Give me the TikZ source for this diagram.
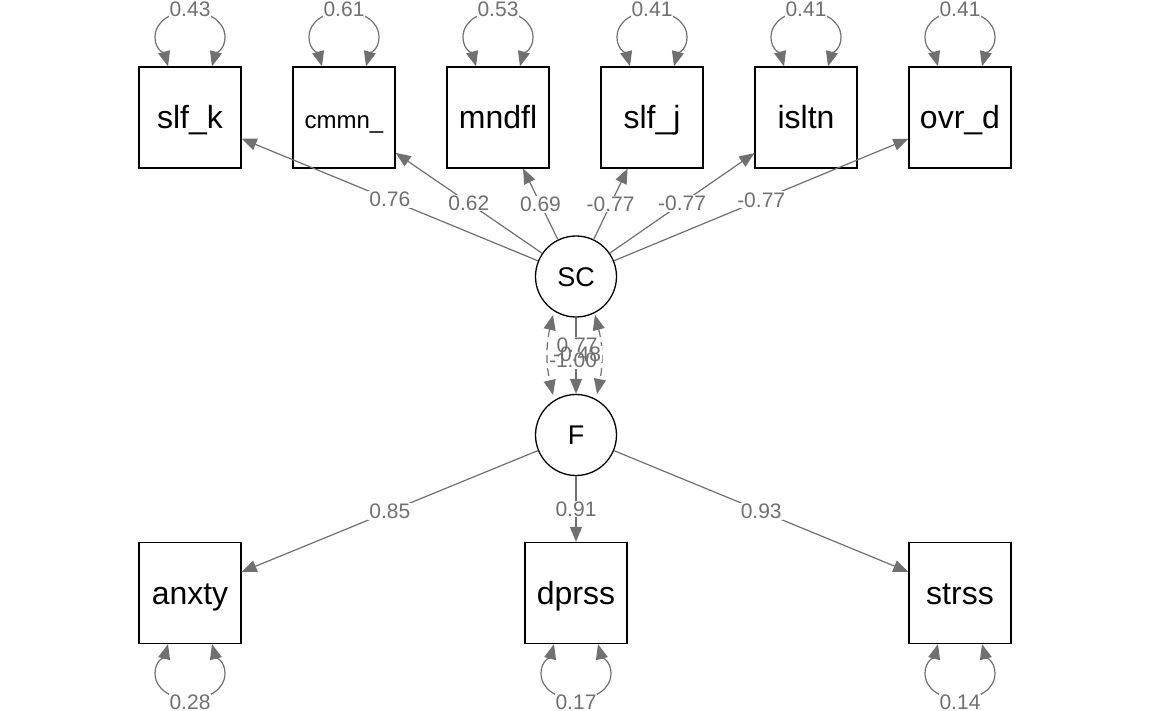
\documentclass[tikz,border=0pt]{standalone}
\usepackage{fontspec}
\setmainfont{Liberation Sans}
\usetikzlibrary{arrows.meta,calc}
\definecolor{egray}{RGB}{112,112,112}
\begin{document}
\begin{tikzpicture}[x=1pt,y=1pt,
  >={Triangle[length=15pt,width=12pt]},
  box/.style={draw=black,line width=1.3pt,minimum width=102pt,minimum height=101pt,inner sep=0pt,text height=22.9pt,text depth=0pt,font=\fontsize{32}{32}\selectfont},
  lat/.style={draw=black,circle,line width=1.3pt,minimum size=81pt,inner sep=0pt,text height=19.3pt,text depth=0pt,font=\fontsize{27}{27}\selectfont},
  edge/.style={draw=egray,line width=1.2pt,->},
  biedge/.style={draw=egray,line width=1.2pt,<->},
  dashedge/.style={biedge,dash pattern=on 8pt off 5pt},
  lbl/.style={fill=white,text=egray,inner sep=1pt,font=\fontsize{21}{21}\selectfont},
  lblbg/.style={lbl,text=white},
  lbltx/.style={lbl,fill=none}]
\fill[white] (0,0) rectangle (1152,-711);
\useasboundingbox (0,0) rectangle (1152,-711);
% nodes
\node[box] (slfk) at (190,-117.5) {slf\_k};
\node[box,font=\fontsize{24}{24}\selectfont] (cmmn) at (344,-117.5) {cmmn\_};
\node[box] (mndfl) at (498,-117.5) {mndfl};
\node[box] (slfj) at (652,-117.5) {slf\_j};
\node[box] (isltn) at (806,-117.5) {isltn};
\node[box] (ovrd) at (960,-117.5) {ovr\_d};
\node[lat] (SC) at (576,-276.5) {SC};
\node[lat] (F) at (576,-435) {F};
\node[box] (anxty) at (190,-593) {anxty};
\node[box] (dprss) at (576,-593) {dprss};
\node[box] (strss) at (960,-593) {strss};
% loadings SC
\foreach \n/\v in {slfk/0.76,cmmn/0.62,mndfl/0.69,slfj/-0.77,isltn/-0.77,ovrd/-0.77}
  \draw[edge] (SC) -- (\n) node[lbl,pos=0.5] {\v};
% loadings F
\foreach \n/\v in {anxty/0.85,dprss/0.91,strss/0.93}
  \draw[edge] (F) -- (\n) node[lbl,pos=0.5] {\v};
% top residual loops
\foreach \n/\v in {slfk/0.43,cmmn/0.61,mndfl/0.53,slfj/0.41,isltn/0.41,ovrd/0.41}{
  \draw[biedge] ($(\n.north)+(-22,0)$) to[out=105,in=-90] ($(\n.north)+(-35,29)$)
    to[out=90,in=180] ($(\n.north)+(0,55)$) to[out=0,in=90] ($(\n.north)+(35,29)$)
    to[out=-90,in=75] ($(\n.north)+(22,0)$);
  \node[lbl] (l\n) at ($(\n.north)+(0,57)$) {\v};
}
% bottom residual loops
\foreach \n/\v in {anxty/0.28,dprss/0.17,strss/0.14}{
  \draw[biedge] ($(\n.south)+(-22,0)$) to[out=-105,in=90] ($(\n.south)+(-35,-29)$)
    to[out=-90,in=180] ($(\n.south)+(0,-55)$) to[out=0,in=-90] ($(\n.south)+(35,-29)$)
    to[out=90,in=-75] ($(\n.south)+(22,0)$);
  \node[lbl] (l\n) at ($(\n.south)+(0,-58)$) {\v};
}
% SC - F
\draw[edge] (SC) -- (F);
\draw[dashedge] ($(SC.center)+(-23,-38.5)$) to[bend right=13] ($(F.center)+(-23,40)$);
\draw[dashedge] ($(SC.center)+(19,-38.5)$) to[bend left=13] ($(F.center)+(21,41)$);
\node[lblbg] (b1) at (577,-345.5) {0.77};
\node[lblbg] (b2) at (577,-354) {-0.48};
\node[lblbg] (b3) at (573,-360.5) {-1.00};
\node[lbltx] (t1) at (577,-345.5) {0.77};
\node[lbltx] (t2) at (577,-354) {-0.48};
\node[lbltx] (t3) at (573,-360.5) {-1.00};
\end{tikzpicture}
\end{document}
